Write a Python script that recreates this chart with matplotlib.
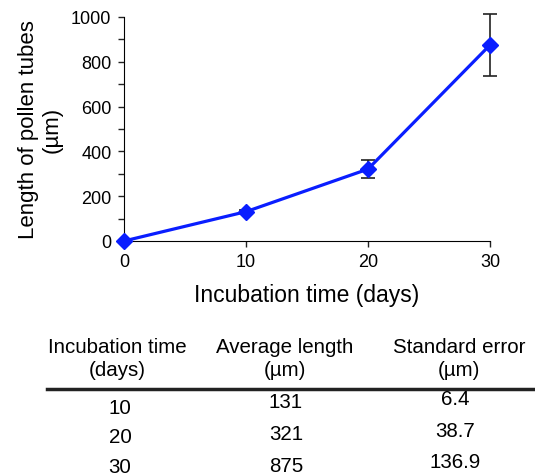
import matplotlib.pyplot as plt
from matplotlib.lines import Line2D

plt.rcParams['font.family'] = ['Liberation Sans', 'DejaVu Sans']

# dados
dias = [0, 10, 20, 30]
comprimento = [0, 131, 321, 875]
erro = [0, 6.4, 38.7, 136.9]

tab_dias = ['10', '20', '30']
tab_media = ['131', '321', '875']
tab_erro = ['6.4', '38.7', '136.9']
cabecalho = ['Incubation time\n(days)', 'Average length\n(\u00b5m)', 'Standard error\n(\u00b5m)']

fig = plt.figure(figsize=(5.35, 4.77), dpi=100)
ax = fig.add_axes([124 / 535, 1 - 242 / 477, 366 / 535, 224 / 477])

ax.errorbar(dias, comprimento, yerr=erro, fmt='none', ecolor='#222222',
            elinewidth=1.2, capsize=5, capthick=1.2, zorder=2, clip_on=False)
ax.plot(dias, comprimento, color='#0a1eff', lw=2.3, marker='D', ms=8,
        mfc='#0a1eff', mec='#0a1eff', zorder=3, clip_on=False)

ax.set_xlim(0, 30)
ax.set_ylim(0, 1000)
ax.set_xticks([0, 10, 20, 30])
ax.set_yticks(range(0, 1001, 200))
ax.set_yticks(range(100, 1000, 200), minor=True)
ax.spines['top'].set_visible(False)
ax.spines['right'].set_visible(False)
ax.tick_params(axis='both', which='major', labelsize=13, length=4.5, width=1,
               color='#222222', pad=4.5)
ax.tick_params(axis='y', which='minor', length=4.5, width=1, color='#222222')
ax.set_xlabel('Incubation time (days)', fontsize=16.5, labelpad=9)
ax.set_ylabel('Length of pollen tubes\n(\u00b5m)', fontsize=16, labelpad=6, linespacing=1.2)

# tabela
col_x = [117, 285, 459]
for x, txt in zip(col_x, cabecalho):
    fig.text(x / 535, 1 - 359 / 477, txt, ha='center', va='center', fontsize=14.8,
             linespacing=1.3)

fig.add_artist(Line2D([47 / 535, 1.0], [1 - 390 / 477] * 2, color='#222222', lw=2.5,
                      transform=fig.transFigure))

for y, txt in zip([408, 438, 468], tab_dias):
    fig.text(120 / 535, 1 - y / 477, txt, ha='center', va='center', fontsize=14.8)
for y, txt in zip([403, 435, 467], tab_media):
    fig.text(286 / 535, 1 - y / 477, txt, ha='center', va='center', fontsize=14.8)
for y, txt in zip([400, 432, 463], tab_erro):
    fig.text(455 / 535, 1 - y / 477, txt, ha='center', va='center', fontsize=14.8)

fig.savefig('out.png', dpi=100)
